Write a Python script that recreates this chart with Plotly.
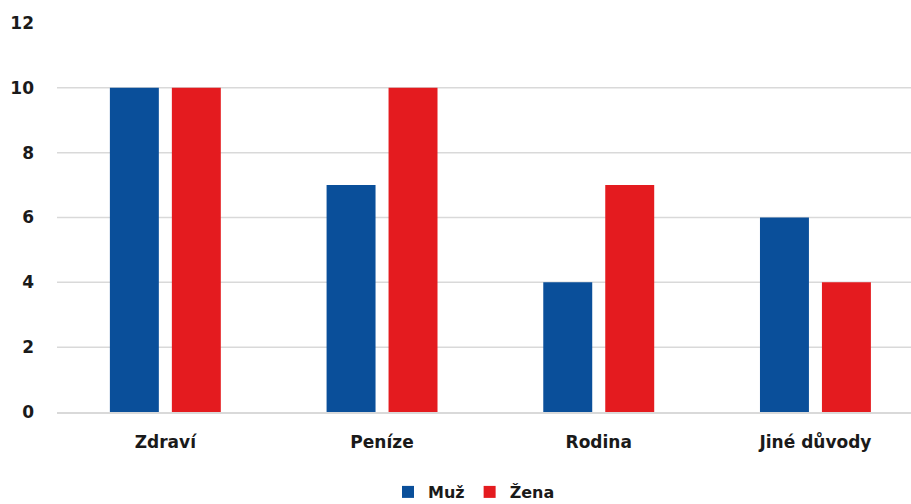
import plotly.graph_objects as go

categories = ["Zdraví", "Peníze", "Rodina", "Jiné důvody"]
muz = [10, 7, 4, 6]
zena = [10, 10, 7, 4]
grid_vals = [2, 4, 6, 8, 10]
tick_vals = [0, 2, 4, 6, 8, 10, 12]

BLUE = "#0A4F9A"
RED = "#E41B1F"
GRID = "#D9D9D9"
FONT = "DejaVu Sans"

fig = go.Figure()
fig.add_trace(go.Bar(x=categories, y=muz, name="Muž", marker=dict(color=BLUE, line=dict(width=0))))
fig.add_trace(go.Bar(x=categories, y=zena, name="Žena", marker=dict(color=RED, line=dict(width=0))))

for v in grid_vals:
    fig.add_shape(type="line", xref="paper", yref="y", x0=0, x1=1, y0=v, y1=v,
                  line=dict(color=GRID, width=1.5), layer="below")

fig.update_layout(
    width=911, height=504,
    margin=dict(l=57, r=0, t=23, b=92),
    paper_bgcolor="white", plot_bgcolor="white",
    barmode="group", bargap=0.428, bargroupgap=0.21,
    font=dict(family=FONT, color="#1a1a1a"),
    xaxis=dict(range=[-0.5, 3.441], showgrid=False, showline=True, linecolor=GRID, linewidth=1.5,
               ticks="", tickfont=dict(size=17, family=FONT, weight="bold"), ticklabelstandoff=14,
               fixedrange=True),
    yaxis=dict(range=[0, 12], tickvals=tick_vals, showgrid=False, zeroline=False, showline=False,
               ticks="", tickfont=dict(size=17, family=FONT, weight="bold"), ticklabelstandoff=22,
               fixedrange=True),
    legend=dict(orientation="h", xref="container", yref="container", x=474/911, xanchor="center",
                y=1 - 492/504, yanchor="middle", font=dict(size=16, family=FONT, weight="bold"),
                itemclick=False, itemwidth=30, tracegroupgap=0),
    showlegend=True,
)

fig.write_html("out.html", config={"displayModeBar": False},
               post_script="document.body.style.margin='0';document.body.style.overflow='hidden';")
